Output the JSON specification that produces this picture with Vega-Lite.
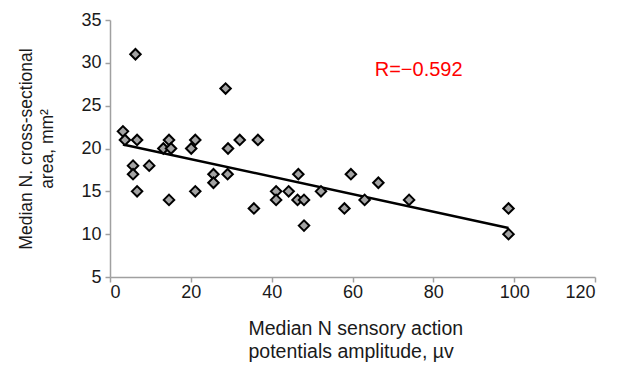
{
  "$schema": "https://vega.github.io/schema/vega-lite/v6.json",
  "autosize": "none",
  "width": 485,
  "height": 257,
  "padding": {"left": 110, "top": 20, "right": 24, "bottom": 89},
  "background": "white",
  "config": {
    "view": {"stroke": null},
    "font": "Liberation Sans",
    "axis": {
      "grid": false,
      "domainColor": "#a0a0a0",
      "tickColor": "#a0a0a0",
      "domainWidth": 1.5,
      "tickWidth": 1.5,
      "tickSize": 5,
      "labelFont": "Liberation Sans",
      "labelFontSize": 18,
      "labelColor": "#1a1a1a",
      "titleFont": "Liberation Sans",
      "titleFontSize": 19.5,
      "titleFontWeight": "normal",
      "titleColor": "#1a1a1a"
    }
  },
  "datasets": {
    "points": [
      {"amp": 3.2, "area": 22},
      {"amp": 3.7, "area": 21},
      {"amp": 6.7, "area": 21},
      {"amp": 6.3, "area": 31},
      {"amp": 5.7, "area": 18},
      {"amp": 5.7, "area": 17},
      {"amp": 6.7, "area": 15},
      {"amp": 9.7, "area": 18},
      {"amp": 13.2, "area": 20},
      {"amp": 14.6, "area": 21},
      {"amp": 15.1, "area": 20},
      {"amp": 14.6, "area": 14},
      {"amp": 20.1, "area": 20},
      {"amp": 21.1, "area": 21},
      {"amp": 21.1, "area": 15},
      {"amp": 25.6, "area": 17},
      {"amp": 25.6, "area": 16},
      {"amp": 28.6, "area": 27},
      {"amp": 29.1, "area": 17},
      {"amp": 29.2, "area": 20},
      {"amp": 32.1, "area": 21},
      {"amp": 36.6, "area": 21},
      {"amp": 35.6, "area": 13},
      {"amp": 41.1, "area": 15},
      {"amp": 41.1, "area": 14},
      {"amp": 44.2, "area": 15},
      {"amp": 46.6, "area": 17},
      {"amp": 46.4, "area": 14},
      {"amp": 48, "area": 14},
      {"amp": 48, "area": 11},
      {"amp": 52.2, "area": 15},
      {"amp": 58, "area": 13},
      {"amp": 59.6, "area": 17},
      {"amp": 63, "area": 14},
      {"amp": 66.4, "area": 16},
      {"amp": 74, "area": 14},
      {"amp": 98.6, "area": 13},
      {"amp": 98.6, "area": 10}
    ],
    "note": [
      {"amp": 65.5, "area": 29.2, "label": "R=\u22120.592"}
    ]
  },
  "layer": [
    {
      "data": {"name": "points"},
      "transform": [{"regression": "area", "on": "amp"}],
      "mark": {"type": "line", "color": "black", "strokeWidth": 2.5},
      "encoding": {
        "x": {"field": "amp", "type": "quantitative"},
        "y": {"field": "area", "type": "quantitative"}
      }
    },
    {
      "data": {"name": "points"},
      "mark": {"type": "point", "shape": "diamond", "filled": true, "fill": "#a3a3a3", "stroke": "black", "strokeWidth": 2, "size": 110, "opacity": 1},
      "encoding": {
        "x": {
          "field": "amp", "type": "quantitative",
          "scale": {"domain": [0, 120], "nice": false},
          "axis": {"values": [0, 20, 40, 60, 80, 100, 120], "labelPadding": 1, "title": ["Median N sensory action", "potentials amplitude, \u00b5v"], "titlePadding": 18, "titleLineHeight": 23, "titleAlign": "left", "titleAnchor": "start", "titleX": 138}
        },
        "y": {
          "field": "area", "type": "quantitative",
          "scale": {"domain": [5, 35], "nice": false, "zero": false},
          "axis": {"values": [5, 10, 15, 20, 25, 30, 35], "labelPadding": 4, "title": ["Median N. cross-sectional", "area, mm\u00b2"], "titleFontSize": 17.5, "titlePadding": 24, "titleLineHeight": 21}
        }
      }
    },
    {
      "data": {"name": "note"},
      "mark": {"type": "text", "align": "left", "baseline": "middle", "color": "#ff0000", "fontSize": 20, "font": "Liberation Sans"},
      "encoding": {
        "x": {"field": "amp", "type": "quantitative"},
        "y": {"field": "area", "type": "quantitative"},
        "text": {"field": "label"}
      }
    }
  ]
}
